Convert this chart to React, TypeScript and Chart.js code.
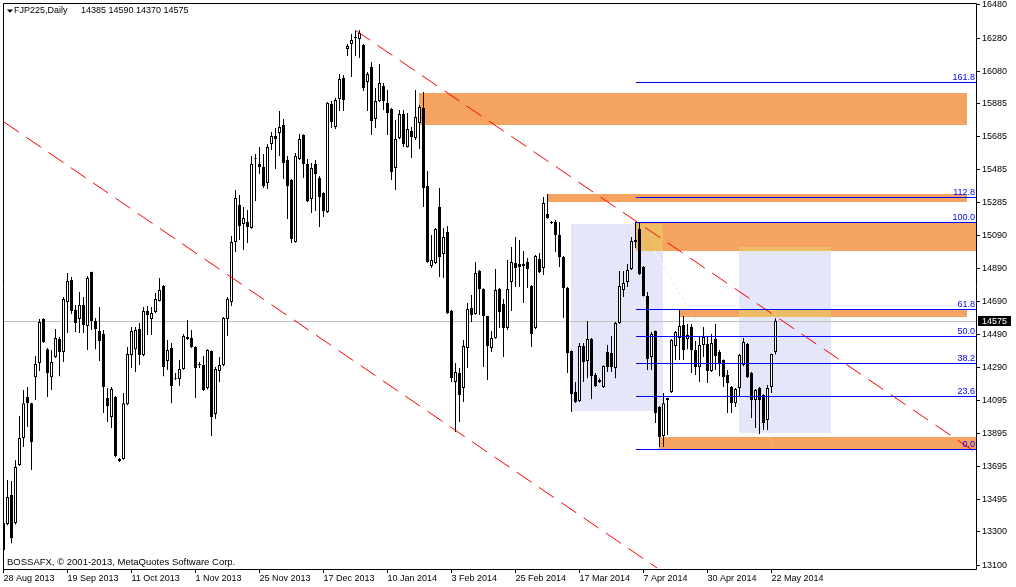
import React, { useEffect, useRef } from 'react';
import { Chart, registerables } from 'chart.js';

Chart.register(...registerables);

const FONT = "'Liberation Sans', Arial, sans-serif";

// ---- candle data (daily bars, 28 Aug 2013 .. end of May 2014) ----
const opens = [
  13190, 13347, 13522, 13353, 13703, 13866, 14114, 14077, 14234, 14319,
  14585, 14403, 14234, 14355, 14464, 14385, 14687, 14820, 14639, 14585,
  14669, 14542, 14868, 14573, 14512, 14494, 14108, 13993, 14114, 13740,
  13740, 14071, 14367, 14403, 14524, 14367, 14633, 14585, 14627, 14693,
  14784, 14331, 14410, 14228, 14222, 14283, 14476, 14470, 14416, 14313,
  14307, 14168, 14391, 14011, 14271, 14307, 14585, 14687, 15049, 15273,
  15158, 15170, 15134, 15550, 15520, 15502, 15405, 15641, 15689, 15707,
  15756, 15544, 15424, 15049, 15550, 15695, 15520, 15309, 15520, 15436,
  15345, 15231, 15883, 15743, 15913, 16039, 16214, 16245, 16287, 16275,
  16238, 16015, 16106, 15792, 15901, 15991, 15889, 15852, 15496, 15677,
  15822, 15623, 15719, 15677, 15768, 15858, 15387, 14905, 14923, 15261,
  14977, 15110, 14633, 14204, 14259, 14168, 14410, 14651, 14615, 14875,
  14766, 14603, 14410, 14470, 14766, 14675, 14530, 14808, 14923, 14917,
  14917, 14929, 14784, 14530, 14947, 14893, 15219, 15170, 15170, 15092,
  14959, 14772, 14391, 14144, 14090, 14422, 14331, 14464, 14247, 14216,
  14174, 14385, 14379, 14289, 14560, 14760, 14808, 14886, 15061, 15128,
  14899, 14724, 14355, 14512, 14053, 13878, 14108, 14144, 14422, 14470,
  14548, 14464, 14536, 14397, 14295, 14428, 14434, 14271, 14464, 14385,
  14337, 14247, 14174, 14077, 14168, 14307, 14434, 14259, 14096, 14168,
  14126, 13975, 14174, 14385,
];
const highs = [
  13432, 13613, 13607, 13733, 13999, 14156, 14174, 14080, 14361, 14585,
  14590, 14410, 14397, 14524, 14476, 14717, 14862, 14838, 14669, 14748,
  14717, 14844, 14870, 14591, 14657, 14518, 14168, 14174, 14120, 13746,
  14138, 14416, 14536, 14536, 14560, 14657, 14663, 14657, 14742, 14832,
  14790, 14458, 14440, 14259, 14337, 14494, 14579, 14518, 14420, 14325,
  14361, 14403, 14395, 14295, 14355, 14597, 14717, 15086, 15363, 15333,
  15261, 15242, 15568, 15580, 15623, 15580, 15641, 15713, 15737, 15840,
  15792, 15568, 15430, 15587, 15701, 15700, 15550, 15526, 15544, 15448,
  15350, 15895, 15901, 15920, 16063, 16057, 16245, 16305, 16323, 16329,
  16245, 16075, 16136, 15979, 16124, 16009, 15967, 15858, 15786, 15846,
  15846, 15828, 15743, 15967, 15876, 15955, 15478, 15092, 15134, 15375,
  15134, 15146, 14640, 14319, 14289, 14458, 14681, 14730, 14929, 14880,
  14770, 14605, 14512, 14886, 14772, 14705, 14941, 15019, 15080, 15061,
  14995, 14953, 14790, 14971, 14983, 15321, 15339, 15176, 15182, 15170,
  14965, 14778, 14395, 14205, 14440, 14440, 14573, 14470, 14259, 14228,
  14305, 14428, 14482, 14567, 14874, 14874, 14917, 15080, 15170, 15164,
  14905, 14748, 14506, 14515, 14060, 14138, 14110, 14462, 14512, 14645,
  14603, 14555, 14555, 14452, 14476, 14536, 14476, 14494, 14555, 14397,
  14340, 14277, 14180, 14168, 14373, 14470, 14440, 14265, 14162, 14174,
  14130, 14186, 14375, 14590,
];
const lows = [
  13160, 13340, 13232, 13345, 13697, 13812, 13933, 13673, 14096, 14271,
  14440, 14114, 14156, 14350, 14240, 14325, 14500, 14615, 14506, 14500,
  14500, 14397, 14518, 14403, 14331, 14017, 13963, 13927, 13750, 13722,
  13735, 14065, 14289, 14265, 14307, 14360, 14488, 14488, 14620, 14690,
  14240, 14277, 14077, 14216, 14181, 14278, 14458, 14410, 14108, 14289,
  14150, 14160, 13878, 13981, 14204, 14300, 14482, 14663, 14989, 15061,
  15001, 15043, 15130, 15297, 15460, 15375, 15369, 15605, 15490, 15568,
  15430, 15188, 15043, 15045, 15545, 15436, 15290, 15225, 15237, 15140,
  15200, 15225, 15737, 15731, 15840, 15840, 16172, 16045, 16172, 16160,
  15961, 15840, 15695, 15737, 15895, 15846, 15695, 15424, 15363, 15670,
  15623, 15620, 15556, 15665, 15611, 15261, 14923, 14893, 14917, 14838,
  14832, 14615, 14205, 13903, 13963, 14084, 14289, 14567, 14610, 14609,
  14295, 14216, 14385, 14465, 14530, 14355, 14518, 14633, 14778, 14778,
  14681, 14772, 14416, 14525, 14862, 14850, 15190, 15158, 14989, 14899,
  14591, 14259, 14023, 14078, 14084, 14204, 14228, 14102, 14174, 14198,
  14168, 14265, 14265, 14228, 14555, 14717, 14778, 14880, 15013, 14850,
  14720, 14277, 14277, 13957, 13812, 13812, 13885, 14138, 14337, 14337,
  14337, 14403, 14259, 14247, 14204, 14355, 14198, 14265, 14277, 14240,
  14174, 14017, 14017, 14053, 14114, 14300, 14230, 13987, 13927, 13891,
  13915, 13915, 14138, 14370,
];
const closes = [
  13353, 13510, 13263, 13691, 13866, 14077, 14077, 13842, 14313, 14566,
  14446, 14259, 14325, 14470, 14385, 14705, 14814, 14633, 14560, 14669,
  14548, 14832, 14573, 14524, 14452, 14174, 14059, 14162, 13758, 13728,
  14077, 14373, 14512, 14518, 14367, 14633, 14609, 14621, 14705, 14760,
  14295, 14397, 14181, 14222, 14283, 14482, 14464, 14416, 14289, 14307,
  14156, 14397, 13993, 14283, 14307, 14591, 14705, 15049, 15315, 15146,
  15194, 15140, 15520, 15555, 15502, 15387, 15623, 15689, 15671, 15743,
  15526, 15387, 15068, 15568, 15671, 15520, 15297, 15496, 15460, 15321,
  15237, 15889, 15774, 15907, 16033, 15907, 16232, 16269, 16281, 16311,
  15979, 16063, 15780, 15901, 16009, 15901, 15828, 15472, 15671, 15822,
  15641, 15731, 15683, 15804, 15864, 15375, 14929, 14941, 15128, 14959,
  15080, 14621, 14228, 14265, 14126, 14422, 14645, 14609, 14862, 14766,
  14603, 14422, 14470, 14760, 14627, 14530, 14766, 14929, 14893, 14899,
  14905, 14886, 14494, 14965, 14868, 15285, 15194, 15164, 15092, 14959,
  14772, 14379, 14132, 14084, 14422, 14325, 14464, 14240, 14181, 14204,
  14301, 14295, 14295, 14560, 14784, 14802, 14880, 15056, 15049, 14856,
  14724, 14343, 14494, 14017, 13873, 14077, 14096, 14458, 14506, 14542,
  14397, 14488, 14397, 14295, 14428, 14476, 14271, 14440, 14361, 14313,
  14234, 14198, 14077, 14162, 14367, 14446, 14234, 14096, 14156, 14096,
  13957, 14168, 14373, 14575,
];

// ---- axes ----
const xTickIndex = [0, 16, 32, 48, 64, 80, 96, 112, 128, 144, 160, 176, 192];
const xTickLabels = [
  '28 Aug 2013', '19 Sep 2013', '11 Oct 2013', '1 Nov 2013', '25 Nov 2013', '17 Dec 2013',
  '10 Jan 2014', '3 Feb 2014', '25 Feb 2014', '17 Mar 2014', '7 Apr 2014', '30 Apr 2014', '22 May 2014',
];
const yTickValues = [
  16480, 16280, 16080, 15885, 15685, 15485, 15285, 15090, 14890,
  14690, 14490, 14290, 14095, 13895, 13695, 13495, 13300, 13100,
];
const xMin = 0.125;
const xMax = 243.125;
const yMin = 13076;
const yMax = 16486;

// ---- drawn objects (bar index / price) ----
const trendAX = [0.1, 163.4];
const trendAY = [15774, 13082];
const trendBX = [87.9, 242.9];
const trendBY = [16329, 13782];

const fibLabels = ['161.8', '112.8', '100.0', '61.8', '50.0', '38.2', '23.6', '0.0'];
const fibPrices = [16015, 15321, 15170, 14645, 14482, 14319, 14120, 13800];
const fibStartIndex = 158.1;
const fibDiagX = [158.1, 192.9];
const fibDiagY = [15170, 13800];

const zoneX0 = [103.9, 135.9, 158.1, 168.9, 163.9];
const zoneX1 = [240.9, 240.9, 243.5, 240.9, 243.5];
const zoneTop = [15949, 15339, 15170, 14645, 13873];
const zoneBottom = [15756, 15291, 14995, 14597, 13800];

const boxX0 = [141.9, 183.9];
const boxX1 = [164.8, 206.9];
const boxTop = [15158, 15019];
const boxBottom = [14029, 13897];

const lastPrice = 14575;
const headerSymbol = 'FJP225,Daily';
const headerValues = '14385 14590 14370 14575';
const footerText = 'BOSSAFX, \u00a9 2001-2013, MetaQuotes Software Corp.';

const ORANGE = '#F4A460';
const LAVENDER = '#E6E6FA';
const TAN = '#EDBD65';

type R = { l: number; r: number; t: number; b: number };

const backgroundPlugin = {
  id: 'mtBackground',
  beforeDraw(chart: any) {
    const { ctx, width, height } = chart;
    ctx.save();
    ctx.fillStyle = '#ffffff';
    ctx.fillRect(0, 0, width, height);
    ctx.restore();
  },
  beforeDatasetsDraw(chart: any) {
    const { ctx, chartArea: a, scales } = chart;
    const xs = scales.x;
    const ys = scales.y;
    const mk = (x0: number, x1: number, v0: number, v1: number): R => ({
      l: Math.round(xs.getPixelForValue(x0)),
      r: Math.round(xs.getPixelForValue(x1)),
      t: Math.round(ys.getPixelForValue(v0)),
      b: Math.round(ys.getPixelForValue(v1)),
    });
    ctx.save();
    ctx.beginPath();
    ctx.rect(a.left, a.top, a.right - a.left, a.bottom - a.top);
    ctx.clip();
    const lav = boxX0.map((_, i) => mk(boxX0[i], boxX1[i], boxTop[i], boxBottom[i]));
    const org = zoneX0.map((_, i) => mk(zoneX0[i], zoneX1[i], zoneTop[i], zoneBottom[i]));
    ctx.fillStyle = LAVENDER;
    lav.forEach((r) => ctx.fillRect(r.l, r.t, r.r - r.l, r.b - r.t));
    ctx.fillStyle = ORANGE;
    org.forEach((r) => ctx.fillRect(r.l, r.t, r.r - r.l, r.b - r.t));
    ctx.fillStyle = TAN;
    lav.forEach((p) => {
      org.forEach((q) => {
        const l = Math.max(p.l, q.l);
        const r = Math.min(p.r, q.r);
        const t = Math.max(p.t, q.t);
        const b = Math.min(p.b, q.b);
        if (r > l && b > t) ctx.fillRect(l, t, r - l, b - t);
      });
    });
    const py = Math.round(ys.getPixelForValue(lastPrice)) + 0.5;
    ctx.strokeStyle = '#C0C0C0';
    ctx.lineWidth = 1;
    ctx.beginPath();
    ctx.moveTo(a.left, py);
    ctx.lineTo(a.right, py);
    ctx.stroke();
    ctx.restore();
  },
};

const foregroundPlugin = {
  id: 'mtForeground',
  afterDraw(chart: any) {
    const { ctx, chartArea: a, scales } = chart;
    const xs = scales.x;
    const ys = scales.y;
    const dpr = chart.currentDevicePixelRatio || 1;

    // XOR-style dotted fibonacci base line
    {
      const x0 = xs.getPixelForValue(fibDiagX[0]);
      const y0 = ys.getPixelForValue(fibDiagY[0]);
      const x1 = xs.getPixelForValue(fibDiagX[1]);
      const y1 = ys.getPixelForValue(fibDiagY[1]);
      const minX = Math.floor(Math.min(x0, x1)) - 2;
      const minY = Math.floor(Math.min(y0, y1)) - 2;
      const w = Math.ceil(Math.abs(x1 - x0)) + 5;
      const h = Math.ceil(Math.abs(y1 - y0)) + 5;
      const img = ctx.getImageData(minX * dpr, minY * dpr, w * dpr, h * dpr);
      const steps = Math.ceil(Math.max(Math.abs(x1 - x0), Math.abs(y1 - y0)));
      for (let k = 0; k <= steps; k++) {
        if (k % 5 >= 3) continue;
        const px = Math.round(x0 + ((x1 - x0) * k) / steps) - minX;
        const pyy = Math.round(y0 + ((y1 - y0) * k) / steps) - minY;
        const idx = ((pyy * dpr) * (w * dpr) + px * dpr) * 4;
        img.data[idx] ^= 25;
        img.data[idx + 1] ^= 25;
        img.data[idx + 2] ^= 5;
      }
      ctx.putImageData(img, minX * dpr, minY * dpr);
    }

    ctx.save();
    // fibonacci levels
    const fx = Math.round(xs.getPixelForValue(fibStartIndex));
    ctx.strokeStyle = '#0000FF';
    ctx.lineWidth = 1;
    ctx.font = `9px ${FONT}`;
    ctx.fillStyle = '#0000FF';
    ctx.textAlign = 'right';
    ctx.textBaseline = 'alphabetic';
    fibPrices.forEach((v, i) => {
      const y = Math.round(ys.getPixelForValue(v)) + 0.5;
      ctx.beginPath();
      ctx.moveTo(fx, y);
      ctx.lineTo(a.right, y);
      ctx.stroke();
      ctx.fillText(fibLabels[i], a.right - 1, y - 2.5);
    });

    // frame
    ctx.strokeStyle = '#000000';
    ctx.beginPath();
    ctx.moveTo(a.left - 0.5, a.bottom + 1);
    ctx.lineTo(a.left - 0.5, a.top - 0.5);
    ctx.lineTo(a.right + 0.5, a.top - 0.5);
    ctx.lineTo(a.right + 0.5, a.bottom + 0.5);
    ctx.lineTo(a.left - 1, a.bottom + 0.5);
    ctx.stroke();

    // header
    ctx.fillStyle = '#000000';
    ctx.beginPath();
    ctx.moveTo(7, 9.5);
    ctx.lineTo(13, 9.5);
    ctx.lineTo(10, 12.8);
    ctx.closePath();
    ctx.fill();
    ctx.font = `9px ${FONT}`;
    ctx.textAlign = 'left';
    ctx.textBaseline = 'middle';
    ctx.fillText(headerSymbol, 14, 11);
    ctx.fillText(headerValues, 81, 11);

    // footer
    ctx.font = `9.5px ${FONT}`;
    ctx.fillText(footerText, 7, 562);

    // last price marker
    ctx.font = `9px ${FONT}`;
    const ly = Math.round(ys.getPixelForValue(lastPrice));
    ctx.fillStyle = '#000000';
    ctx.fillRect(a.right + 2, ly - 5, 33, 10);
    ctx.fillStyle = '#FFFFFF';
    ctx.fillText(String(lastPrice), a.right + 6, ly + 0.5);
    ctx.restore();
  },
};

export default function App() {
  const ref = useRef<HTMLCanvasElement>(null);

  useEffect(() => {
    document.body.style.margin = '0';
    const canvas = ref.current;
    if (!canvas) return;

    const bodies = opens.map((o, i) => ({ x: i, y: [Math.min(o, closes[i]), Math.max(o, closes[i])] }));
    const wicks = opens.map((_, i) => ({ x: i, y: [lows[i], highs[i]] }));
    const bodyColors = opens.map((o, i) => (closes[i] >= o ? '#FFFFFF' : '#000000'));

    const chart = new Chart(canvas, {
      type: 'bar',
      data: {
        datasets: [
          {
            type: 'line',
            label: 'trend A',
            data: trendAX.map((x, i) => ({ x, y: trendAY[i] })),
            borderColor: '#FF0000',
            borderWidth: 1,
            borderDash: [18, 9],
            pointRadius: 0,
            fill: false,
            tension: 0,
            order: 0,
          } as any,
          {
            type: 'line',
            label: 'trend B',
            data: trendBX.map((x, i) => ({ x, y: trendBY[i] })),
            borderColor: '#FF0000',
            borderWidth: 1,
            borderDash: [18, 9],
            pointRadius: 0,
            fill: false,
            tension: 0,
            order: 0,
          } as any,
          {
            type: 'bar',
            label: 'bodies',
            data: bodies,
            backgroundColor: bodyColors,
            borderColor: '#000000',
            borderWidth: 1,
            borderSkipped: false,
            grouped: false,
            barPercentage: 0.75,
            categoryPercentage: 1,
            inflateAmount: 0,
            order: 1,
          } as any,
          {
            type: 'bar',
            label: 'wicks',
            data: wicks,
            backgroundColor: '#000000',
            borderWidth: 0,
            grouped: false,
            barPercentage: 0.25,
            categoryPercentage: 1,
            inflateAmount: 0,
            order: 2,
          } as any,
        ],
      },
      options: {
        animation: false,
        responsive: false,
        events: [],
        layout: { padding: { left: 4, top: 4, right: 0, bottom: 0 } },
        plugins: { legend: { display: false }, tooltip: { enabled: false } },
        scales: {
          x: {
            type: 'linear',
            position: 'bottom',
            offset: false,
            min: xMin,
            max: xMax,
            border: { display: false },
            grid: { display: true, offset: false, drawOnChartArea: false, drawTicks: true, tickLength: 4, color: '#000000' },
            ticks: {
              autoSkip: false,
              maxRotation: 0,
              minRotation: 0,
              align: 'start',
              padding: 0,
              color: '#000000',
              font: { family: FONT, size: 9 },
              callback: (v: any) => {
                const k = xTickIndex.indexOf(Number(v));
                return k >= 0 ? xTickLabels[k] : '';
              },
            },
            afterBuildTicks: (s: any) => {
              s.ticks = xTickIndex.map((v) => ({ value: v }));
            },
            afterFit: (s: any) => {
              s.height = 18;
              s.paddingLeft = 0;
              s.paddingRight = 0;
            },
          },
          y: {
            type: 'linear',
            position: 'right',
            min: yMin,
            max: yMax,
            border: { display: false },
            grid: { display: true, drawOnChartArea: false, drawTicks: true, tickLength: 4, color: '#000000' },
            ticks: {
              autoSkip: false,
              padding: 2,
              color: '#000000',
              font: { family: FONT, size: 9 },
              callback: (v: any) => String(v),
            },
            afterBuildTicks: (s: any) => {
              s.ticks = yTickValues.map((v) => ({ value: v }));
            },
            afterFit: (s: any) => {
              s.width = 40;
              s.paddingTop = 0;
              s.paddingBottom = 0;
            },
          },
        },
      } as any,
      plugins: [backgroundPlugin, foregroundPlugin],
    });

    return () => chart.destroy();
  }, []);

  return (
    <div style={{ position: 'relative', width: 1016, height: 587, background: '#ffffff' }}>
      <canvas ref={ref} width={1016} height={587} style={{ display: 'block', width: 1016, height: 587 }} />
    </div>
  );
}
